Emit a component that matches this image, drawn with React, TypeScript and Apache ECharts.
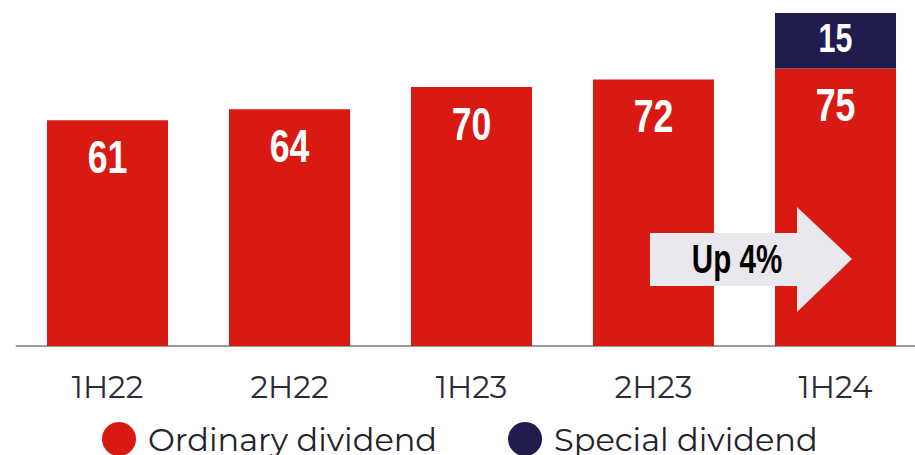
import React, { useEffect, useRef } from "react";
import * as echarts from "echarts";

const categories = ["1H22", "2H22", "1H23", "2H23", "1H24"];
const ordinaryDividend = [61, 64, 70, 72, 75];
const specialDividend = [null, null, null, null, 15];
const seriesNames = ["Ordinary dividend", "Special dividend"];
const arrowText = "Up 4%";

const RED = "#D91A13";
const NAVY = "#201C4E";
const LABEL_FONT = "'Liberation Sans', Arial, sans-serif";
const SANS = "Montserrat, 'Open Sans', 'Noto Sans', sans-serif";

// label data: [category index, anchor value, shown value, kind]
const ordinaryLabels = ordinaryDividend.map((v, i) => [i, v, v, 0]);
const specialLabels = specialDividend
  .map((v, i) => (v == null ? null : [i, ordinaryDividend[i] + v / 2, v, 1]))
  .filter((d) => d !== null);

export default function App() {
  const ref = useRef<HTMLDivElement>(null);
  useEffect(() => {
    if (!ref.current) return;
    const chart = echarts.init(ref.current, undefined, { renderer: "svg" });
    chart.setOption({
      animation: false,
      backgroundColor: "#ffffff",
      grid: { left: 16.5, width: 910, top: 13, bottom: 109, containLabel: false },
      xAxis: {
        type: "category",
        data: categories,
        axisTick: { show: false },
        axisLine: { lineStyle: { color: "#9a9a9a", width: 2 } },
        axisLabel: { margin: 25, fontSize: 31, color: "#2b2b36", fontFamily: SANS },
      },
      yAxis: { type: "value", min: 0, max: 90, show: false, splitLine: { show: false } },
      legend: {
        data: [
          { name: seriesNames[0], itemStyle: { color: RED } },
          { name: seriesNames[1], itemStyle: { color: NAVY } },
        ],
        icon: "circle",
        itemWidth: 34,
        itemHeight: 34,
        padding: 0,
        left: 102,
        top: 422,
        itemGap: 71,
        textStyle: { fontSize: 32, color: "#222228", fontFamily: SANS, padding: [0, 0, 0, 7] },
      },
      series: [
        {
          name: seriesNames[0],
          type: "bar",
          stack: "div",
          barWidth: "66.5%",
          data: ordinaryDividend,
          itemStyle: { color: RED },
        },
        {
          name: seriesNames[1],
          type: "bar",
          stack: "div",
          barWidth: "66.5%",
          data: specialDividend,
          itemStyle: { color: NAVY },
        },
        {
          name: "labels",
          type: "custom",
          z: 10,
          data: [...ordinaryLabels, ...specialLabels],
          renderItem: (params: any, api: any) => {
            const p = api.coord([api.value(0), api.value(1)]);
            const kind = api.value(3);
            return {
              type: "text",
              x: p[0],
              y: kind === 0 ? p[1] + 36.5 : p[1] - 2,
              scaleX: 0.76,
              style: {
                text: String(api.value(2)),
                fill: "#ffffff",
                fontSize: kind === 0 ? 47 : 40,
                fontWeight: "bold",
                fontFamily: LABEL_FONT,
                align: "center",
                verticalAlign: "middle",
              },
            };
          },
        },
      ],
      graphic: [
        {
          type: "polygon",
          z: 100,
          shape: {
            points: [
              [650, 233],
              [797, 233],
              [797, 207],
              [852, 259],
              [797, 312],
              [797, 286],
              [650, 286],
            ],
          },
          style: { fill: "#E8E8EE" },
        },
        {
          type: "text",
          z: 101,
          x: 737,
          y: 259,
          scaleX: 0.74,
          style: {
            text: arrowText,
            fill: "#000000",
            fontSize: 40,
            fontWeight: "bold",
            fontFamily: LABEL_FONT,
            align: "center",
            verticalAlign: "middle",
          },
        },
      ],
    });
    return () => chart.dispose();
  }, []);
  return (
    <div
      style={{ position: "absolute", left: 0, top: 0, width: 915, height: 455, overflow: "hidden" }}
    >
      <div ref={ref} style={{ width: 930, height: 455 }} />
    </div>
  );
}
